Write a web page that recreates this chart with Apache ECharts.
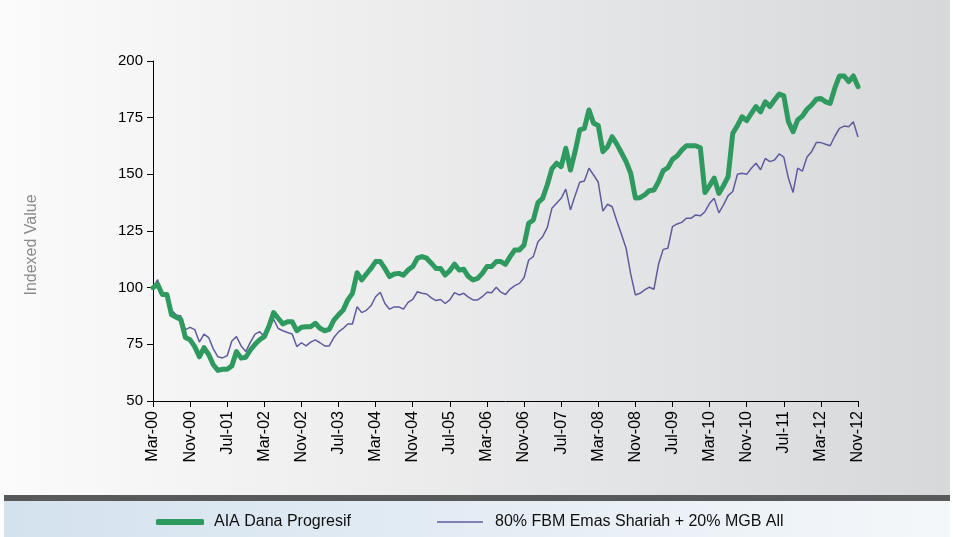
<!doctype html>
<html>
<head>
    <meta http-equiv="Content-Type" content="text/html; charset=utf-8" />
    <title>AIA Dana Progresif</title>
    <script src="https://cdn.jsdelivr.net/npm/echarts@6/dist/echarts.min.js"></script>
    <style>
        html, body { margin: 0; padding: 0; background: #fff; }
        #main { width: 953px; height: 537px; }
    </style>
</head>
<body>
<div id="main"></div>
<script type="text/javascript">
    // month labels Mar-00 .. Nov-12
    var monNames = ['Jan','Feb','Mar','Apr','May','Jun','Jul','Aug','Sep','Oct','Nov','Dec'];
    var months = [];
    for (var i = 0; i < 153; i++) {
        var k = i + 2;
        var yy = Math.floor(k / 12);
        months.push(monNames[k % 12] + '-' + (yy < 10 ? '0' + yy : '' + yy));
    }

    var fundName = 'AIA Dana Progresif';
    var benchName = '80% FBM Emas Shariah + 20% MGB All';

    var fund = [
        100,101.5,97,97,88,87,86,78,77,74,
        69.5,73.5,70.5,66,63.5,64,64,65.5,71.8,68.9,
        69.3,72.5,75,77,78.4,83,89,86.5,84,85,
        85,81,82.5,82.8,82.8,84.3,82.1,81,81.6,85.7,
        88,90.1,94.6,97.5,106.6,103.4,106,108.5,111.5,111.5,
        108.5,104.9,106,106.3,105.5,107.8,109.3,113,113.7,113,
        110.8,108.5,108.5,105.6,107.5,110.4,107.8,108.1,104.9,103.4,
        104.1,106.3,109.3,109.3,111.5,111.5,110.3,113.7,116.6,116.6,
        118.8,128.4,129.9,137.5,139.4,145.3,152.4,154.9,153.4,161.5,
        151.9,160,169.6,170.3,178.4,172.5,171.5,160,162.2,166.6,
        163.3,159.5,155.6,150.5,139.6,139.7,140.9,142.8,143.1,146.8,
        151.6,152.9,156.6,158.1,160.7,162.6,162.6,162.6,161.7,142,
        145,148.3,141.6,145,149,168.1,171.5,175.4,173.7,176.9,
        179.9,177.6,182,179.9,182.8,185.4,184.6,173.2,168.8,174,
        175.7,178.7,180.6,183.1,183.5,182,181.3,188,193.4,193.4,
        190.9,193.4,188.7
    ];

    var bench = [
        100,103.5,97,97,90,88,87.5,81.5,82.5,81.5,
        76,79.5,78,73,69.5,69,70,76.5,78.4,74.3,
        71.8,76,79.5,80.6,78.4,82.5,86,82,81,80.2,
        79.6,74,75.7,74.3,76,77,75.7,74.3,74.3,78,
        80.5,82,84,84,91.6,89,90,92,96,98,
        93,90.5,91.5,91.5,90.5,93.5,94.8,98.2,97.5,97.2,
        95.5,94.3,94.8,93,94.6,97.8,96.8,97.5,95.8,94.6,
        94.6,96,98,97.8,100.2,98,97,99.4,100.9,101.9,
        104.4,112.2,113.7,120.3,122.5,126.5,135,137.2,139.4,143.5,
        134.3,140.6,146.5,147.1,152.7,149.7,146.5,133.8,136.8,135.7,
        129.4,123.6,117.4,106,96.8,97.5,99,100.2,99.3,110.4,
        116.9,117.4,126.9,128.1,128.8,130.6,130.6,132.1,131.7,133.5,
        137.2,139.4,133,136.5,140.6,142.4,150,150.5,150,152.7,
        154.9,152,157,155.6,156.3,159,157.6,148.3,142,152.7,
        151.4,157.6,160,164,164,163.3,162.6,166.8,170.3,171.3,
        171,173.2,166.5
    ];

    var fontName = 'Liberation Sans, Arial, sans-serif';
    var myChart = echarts.init(document.getElementById('main'));

    var option = {
        animation: false,
        graphic: [
            {
                type: 'rect', z: -10, silent: true,
                shape: { x: 0, y: 0, width: 950, height: 495 },
                style: {
                    fill: new echarts.graphic.LinearGradient(0, 0, 1, 0, [
                        { offset: 0, color: '#fbfbfb' },
                        { offset: 1, color: '#d7d8da' }
                    ])
                }
            },
            {
                type: 'rect', z: -10, silent: true,
                shape: { x: 4, y: 495, width: 946, height: 6 },
                style: { fill: '#58595b' }
            },
            {
                type: 'rect', z: -10, silent: true,
                shape: { x: 4, y: 501, width: 946, height: 36 },
                style: {
                    fill: new echarts.graphic.LinearGradient(0, 0, 1, 0, [
                        { offset: 0, color: '#d4e2ee' },
                        { offset: 1, color: '#f4f7fa' }
                    ])
                }
            },
            {
                type: 'text', z: 10, silent: true,
                x: 32, y: 245, rotation: Math.PI / 2,
                style: {
                    text: 'Indexed Value',
                    fill: '#8a8a8a',
                    font: '16px Liberation Sans, Arial, sans-serif',
                    textAlign: 'center',
                    textVerticalAlign: 'middle'
                }
            }
        ],
        legend: [
            {
                left: 151, top: 509,
                icon: 'roundRect', itemWidth: 48, itemHeight: 6,
                data: [fundName],
                textStyle: { fontSize: 16, color: '#111', fontFamily: fontName, padding: [0, 0, 0, 5] }
            },
            {
                left: 432, top: 509,
                icon: 'rect', itemWidth: 46, itemHeight: 1.5,
                data: [benchName],
                textStyle: { fontSize: 16, color: '#111', fontFamily: fontName, padding: [0, 0, 0, 7] }
            }
        ],
        grid: { left: 153, right: 95, top: 61, bottom: 136 },
        xAxis: {
            type: 'category',
            boundaryGap: false,
            data: months,
            axisLine: { lineStyle: { color: '#000', width: 1 } },
            axisTick: { interval: 7, length: 6, lineStyle: { color: '#000' } },
            axisLabel: { interval: 7, rotate: 90, margin: 10, fontSize: 16, color: '#000', fontFamily: fontName },
            splitLine: { show: false }
        },
        yAxis: {
            type: 'value',
            min: 50, max: 200, interval: 25,
            axisLine: { show: true, lineStyle: { color: '#000', width: 1 } },
            axisTick: { show: true, length: 6, lineStyle: { color: '#000' } },
            axisLabel: { margin: 10, fontSize: 15, color: '#000', fontFamily: fontName },
            splitLine: { show: false }
        },
        series: [
            {
                name: benchName,
                type: 'line',
                data: bench,
                showSymbol: false,
                z: 2,
                itemStyle: { color: '#5e5c9f' },
                lineStyle: { color: '#5e5c9f', width: 1.5 }
            },
            {
                name: fundName,
                type: 'line',
                data: fund,
                showSymbol: false,
                z: 3,
                itemStyle: { color: '#2f9a60' },
                lineStyle: { color: '#2f9a60', width: 5, join: 'round', cap: 'round' }
            }
        ]
    };
    myChart.setOption(option);
</script>
</body>
</html>
